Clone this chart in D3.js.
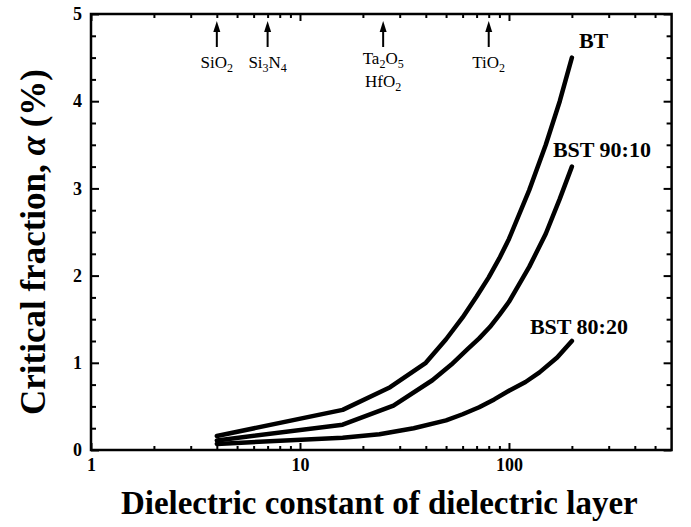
<!DOCTYPE html>
<html>
<head>
<meta charset="utf-8">
<script src="https://cdn.jsdelivr.net/npm/d3@7"></script>
<style>
body { margin: 0; background: #fff; }
svg { display: block; }
text { font-family: "Liberation Serif", "Times New Roman", serif; fill: #000; }
</style>
</head>
<body>
<svg width="691" height="527"></svg>
<script>
// dielectric constant (k) and critical fraction (%) per series
const btK = [4, 16, 27, 40, 50, 60, 70, 80, 90, 100, 125, 150, 175, 200],
    btA = [0.16, 0.46, 0.72, 1.0, 1.27, 1.52, 1.76, 1.98, 2.2, 2.42, 2.98, 3.5, 4.0, 4.5],
    bst90K = [4, 16, 28, 43, 53, 63, 72, 81, 90, 100, 125, 150, 175, 200],
    bst90A = [0.11, 0.29, 0.51, 0.80, 0.98, 1.15, 1.28, 1.41, 1.55, 1.70, 2.10, 2.48, 2.88, 3.25],
    bst80K = [4, 16, 24, 35, 50, 60, 72, 85, 100, 120, 140, 170, 200],
    bst80A = [0.07, 0.14, 0.18, 0.25, 0.34, 0.41, 0.49, 0.58, 0.68, 0.78, 0.89, 1.06, 1.25],
    seriesNames = ["BT", "BST 90:10", "BST 80:20"];

// gate dielectric markers along the top
const materialK = [4, 7, 25, 80],
    materialNames = [["SiO2"], ["Si3N4"], ["Ta2O5", "HfO2"], ["TiO2"]];

const xTicks = [1, 10, 100],
    yTicks = [0, 1, 2, 3, 4, 5];

const svg = d3.select("svg"),
    margin = {top: 14, right: 19.4, bottom: 77, left: 91},
    width = +svg.attr("width"),
    height = +svg.attr("height"),
    x = d3.scaleLog().domain([1, 600]).range([margin.left, width - margin.right]),
    y = d3.scaleLinear().domain([0, 5]).range([height - margin.bottom, margin.top]);

const xMinor = [];
for(let e = 1; e <= 100; e *= 10) {
    for(let m = 2; m <= 9; m++) {
        if(m * e < 600) xMinor.push(m * e);
    }
}
const yMinor = d3.range(0, 5.001, 0.25).filter((v) => v % 1 !== 0);

function styleAxis(g) {
    g.select(".domain").remove();
    g.selectAll("line").attr("stroke", "#000").attr("stroke-width", 2);
    g.selectAll("text")
        .attr("font-size", 18)
        .attr("font-weight", "bold")
        .attr("fill", "#000");
}

// bottom / top
svg.append("g").attr("transform", `translate(0,${y(0)})`)
    .call(d3.axisBottom(x).tickValues(xTicks).tickSize(-7).tickPadding(8).tickFormat(d3.format("d")))
    .call(styleAxis);
svg.append("g").attr("transform", `translate(0,${y(0)})`)
    .call(d3.axisBottom(x).tickValues(xMinor).tickSize(-4).tickFormat(""))
    .call(styleAxis);
svg.append("g").attr("transform", `translate(0,${y(5)})`)
    .call(d3.axisTop(x).tickValues(xTicks).tickSize(-7).tickFormat(""))
    .call(styleAxis);
svg.append("g").attr("transform", `translate(0,${y(5)})`)
    .call(d3.axisTop(x).tickValues(xMinor).tickSize(-4).tickFormat(""))
    .call(styleAxis);

// left / right
svg.append("g").attr("transform", `translate(${x(1)},0)`)
    .call(d3.axisLeft(y).tickValues(yTicks).tickSize(-8).tickPadding(9).tickFormat(d3.format("d")))
    .call(styleAxis);
svg.append("g").attr("transform", `translate(${x(1)},0)`)
    .call(d3.axisLeft(y).tickValues(yMinor).tickSize(-5).tickFormat(""))
    .call(styleAxis);
svg.append("g").attr("transform", `translate(${x(600)},0)`)
    .call(d3.axisRight(y).tickValues(yTicks).tickSize(-8).tickFormat(""))
    .call(styleAxis);
svg.append("g").attr("transform", `translate(${x(600)},0)`)
    .call(d3.axisRight(y).tickValues(yMinor).tickSize(-5).tickFormat(""))
    .call(styleAxis);

// frame
svg.append("rect")
    .attr("x", x(1)).attr("y", y(5))
    .attr("width", x(600) - x(1)).attr("height", y(0) - y(5))
    .attr("fill", "none").attr("stroke", "#000").attr("stroke-width", 2.5);

// curves
const series = [
    {name: seriesNames[0], k: btK, a: btA, dx: 7, dy: -17},
    {name: seriesNames[1], k: bst90K, a: bst90A, dx: -19, dy: -17},
    {name: seriesNames[2], k: bst80K, a: bst80A, dx: -42, dy: -15}
];
const line = d3.line().x((d) => x(d[0])).y((d) => y(d[1]));

for(const s of series) {
    const pts = s.k.map((k, i) => [k, s.a[i]]);
    svg.append("path")
        .datum(pts)
        .attr("fill", "none")
        .attr("stroke", "#000")
        .attr("stroke-width", 4.5)
        .attr("stroke-linejoin", "round")
        .attr("stroke-linecap", "round")
        .attr("d", line);
    const last = pts[pts.length - 1];
    svg.append("text")
        .attr("x", x(last[0]) + s.dx)
        .attr("y", y(last[1]) + s.dy)
        .attr("dy", "0.35em")
        .attr("font-size", 22)
        .attr("font-weight", "bold")
        .text(s.name);
}

// material arrows + labels
function subText(sel, str) {
    for(const part of str.match(/\d+|\D+/g)) {
        const t = sel.append("tspan").text(part);
        if(/\d/.test(part)) {
            t.attr("font-size", 12).attr("dy", 4);
        }
        else if(sel.selectAll("tspan").size() > 1) {
            t.attr("dy", -4);
        }
    }
}

materialK.forEach((k, i) => {
    const cx = x(k),
        rows = materialNames[i];
    svg.append("line")
        .attr("x1", cx).attr("x2", cx)
        .attr("y1", 30).attr("y2", 47)
        .attr("stroke", "#000").attr("stroke-width", 2);
    svg.append("path")
        .attr("d", `M${cx},21L${cx - 3.5},32L${cx + 3.5},32Z`)
        .attr("fill", "#000");
    rows.forEach((nm, j) => {
        const t = svg.append("text")
            .attr("x", cx)
            .attr("y", (rows.length > 1 ? 64 : 68) + j * 23)
            .attr("text-anchor", "middle")
            .attr("font-size", 17);
        subText(t, nm);
    });
});

// axis titles
svg.append("text")
    .attr("x", (x(1) + x(600)) / 2 - 2)
    .attr("y", 514)
    .attr("text-anchor", "middle")
    .attr("font-size", 33)
    .attr("font-weight", "bold")
    .text("Dielectric constant of dielectric layer");

const yt = svg.append("text")
    .attr("transform", `translate(45,242) rotate(-90)`)
    .attr("text-anchor", "middle")
    .attr("font-size", 35)
    .attr("font-weight", "bold");
yt.append("tspan").text("Critical fraction, ");
yt.append("tspan").attr("font-style", "italic").text("α");
yt.append("tspan").text(" (%)");
</script>
</body>
</html>
